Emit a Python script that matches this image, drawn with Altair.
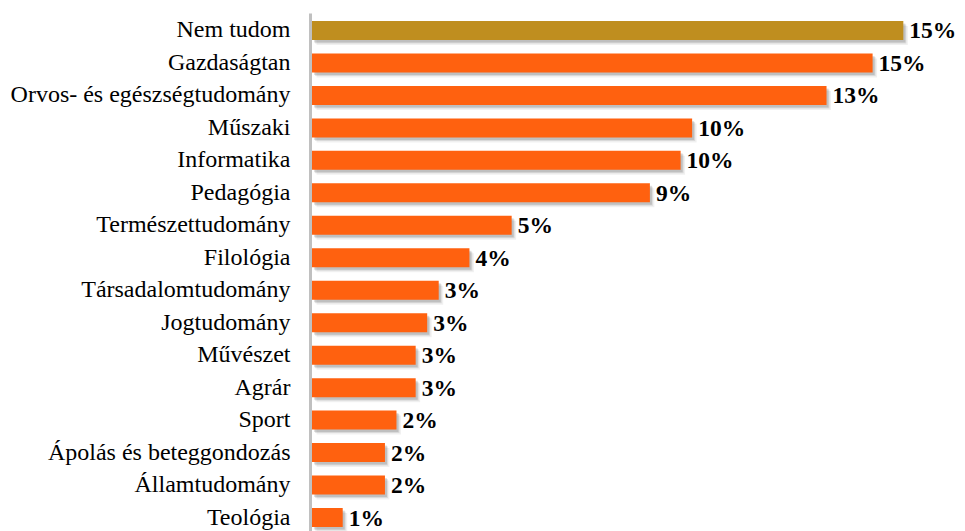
import altair as alt
import pandas as pd

categories = ["Nem tudom", "Gazdaságtan", "Orvos- és egészségtudomány", "Műszaki",
              "Informatika", "Pedagógia", "Természettudomány", "Filológia",
              "Társadalomtudomány", "Jogtudomány", "Művészet", "Agrár", "Sport",
              "Ápolás és beteggondozás", "Államtudomány", "Teológia"]
values = [15.4, 14.6, 13.4, 9.9, 9.6, 8.8, 5.2, 4.1, 3.3, 3.0, 2.7, 2.7, 2.2, 1.9, 1.9, 0.8]
labels = ["15%", "15%", "13%", "10%", "10%", "9%", "5%", "4%", "3%", "3%", "3%", "3%",
          "2%", "2%", "2%", "1%"]

df = pd.DataFrame({"cat": categories, "val": values, "lab": labels})

ORANGE = "#FF610F"
GOLD = "#BF8E1F"
FONT = "'Liberation Serif', 'Times New Roman', Times, serif"

y_enc = alt.Y("cat:N", sort=categories,
              scale=alt.Scale(paddingInner=0.415, paddingOuter=0.246),
              axis=alt.Axis(title=None, ticks=False, labelPadding=20, offset=2,
                            domainColor="#C0C0C0", domainWidth=3, grid=False,
                            labelFont=FONT, labelFontSize=24,
                            labelColor="#000000", labelLimit=400))
x_enc = alt.X("val:Q", scale=alt.Scale(domain=[0, 15.6], nice=False, zero=True),
              axis=None)

base = alt.Chart(df)

shadows = []
for off, op in [(2, 0.12), (3, 0.09), (4.5, 0.06)]:
    shadows.append(
        base.mark_bar(color="#000000", opacity=op, xOffset=off, x2Offset=off,
                      yOffset=off + 0.5, y2Offset=off + 0.5)
        .encode(y=y_enc, x=x_enc)
    )

bars = base.mark_bar().encode(
    y=y_enc, x=x_enc,
    color=alt.condition(alt.datum.cat == "Nem tudom", alt.value(GOLD), alt.value(ORANGE)),
)

text = base.mark_text(align="left", baseline="middle", dx=6, dy=1,
                      font=FONT, fontSize=23.5, fontWeight="bold",
                      color="#000000").encode(y=y_enc, x=x_enc, text="lab:N")

chart = alt.layer(*shadows, bars, text).properties(
    width=599, height=522,
    autosize=alt.AutoSizeParams(type="none"),
    padding={"left": 304, "top": 5, "right": 45, "bottom": 0},
    view=alt.ViewBackground(stroke=None, strokeWidth=0, fill="#ffffff"),
).configure(
    background="#ffffff",
    view=alt.ViewConfig(stroke=None, strokeWidth=0),
)

chart.save("out.html", embed_options={"renderer": "svg", "actions": False})
